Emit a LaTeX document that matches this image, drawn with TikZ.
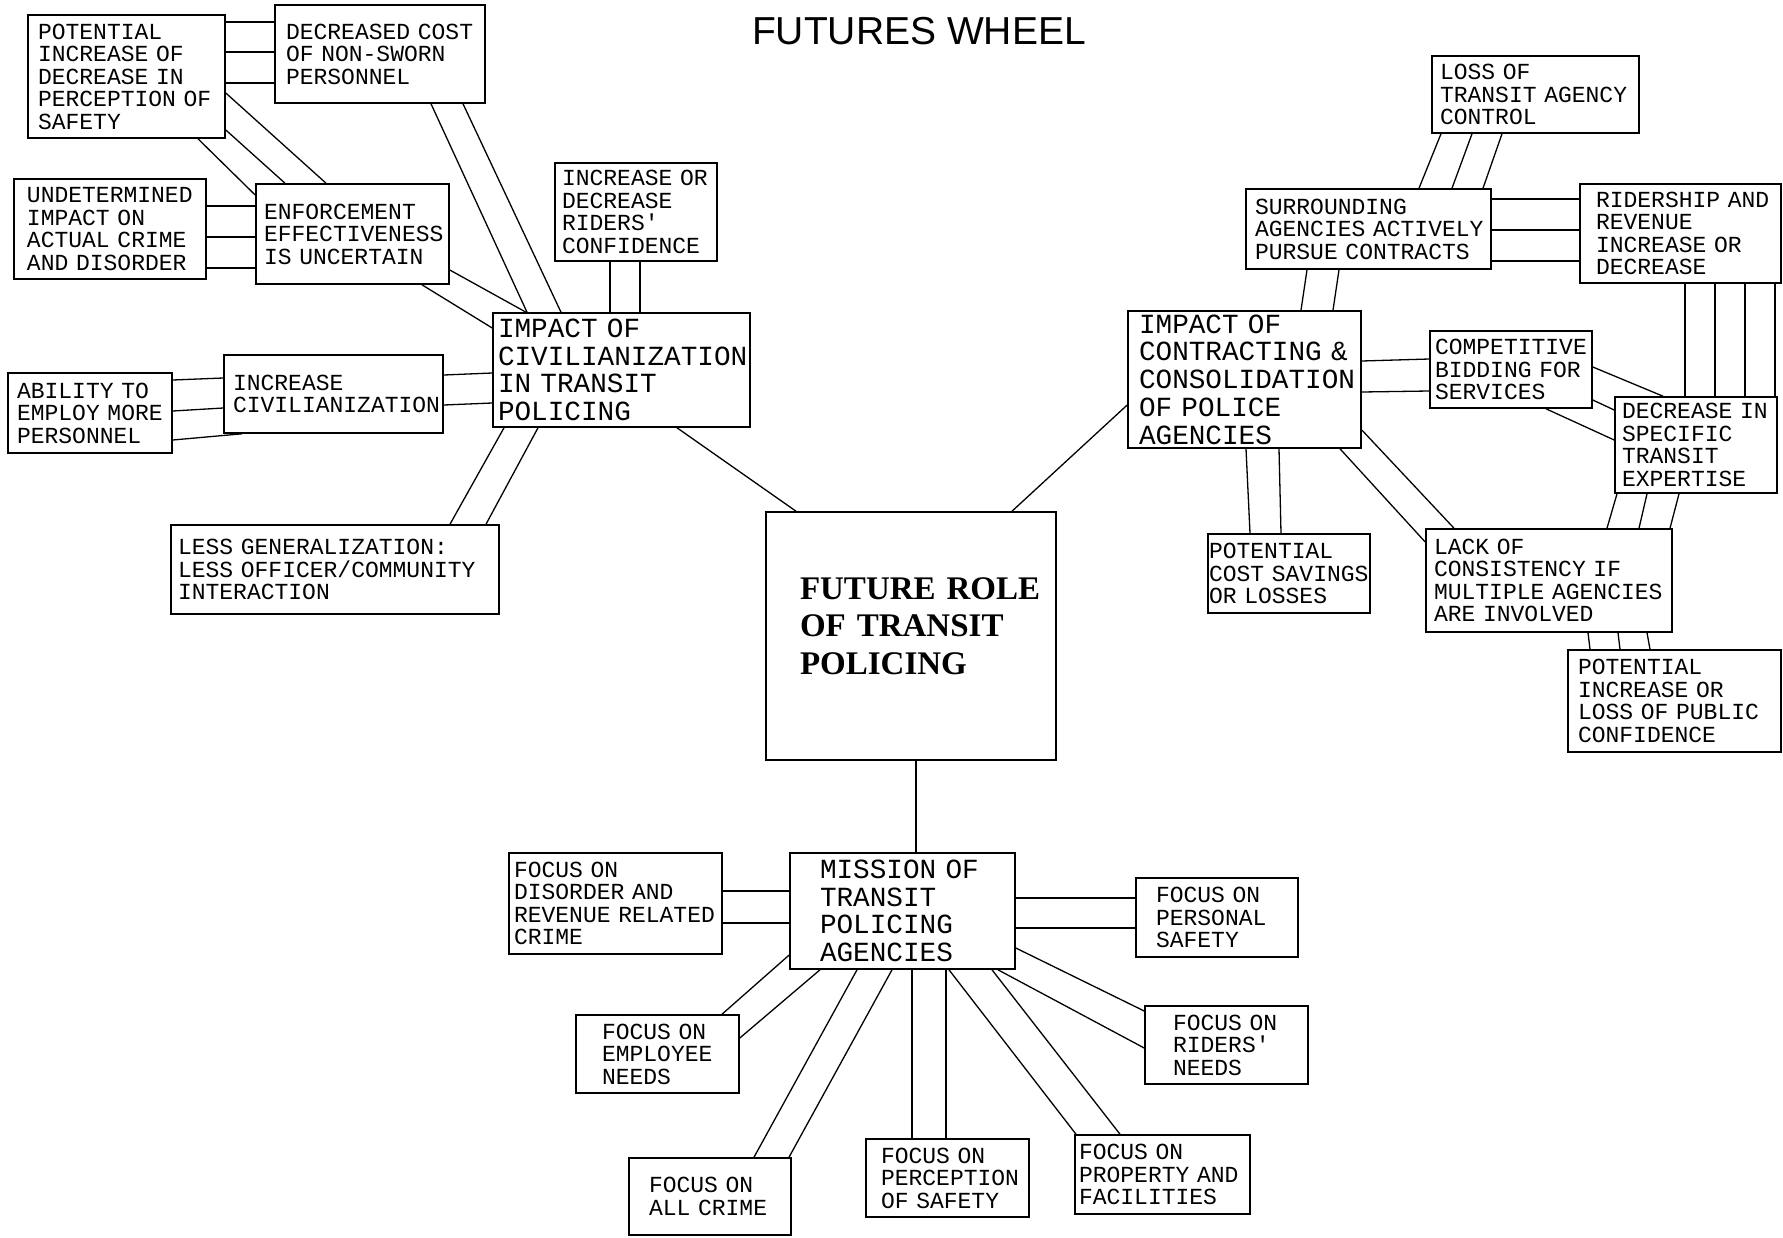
\documentclass[tikz,border=0pt]{standalone}
\usepackage{fontspec}
\setmainfont{Liberation Serif}
\setsansfont{Liberation Sans}
\setmonofont{Liberation Mono}
\newcommand\mkbox[8]{%
 \pgfmathsetmacro\mbW{#5-#3}\pgfmathsetmacro\mbH{#6-#4}\pgfmathsetmacro\mbT{#5-#3-2*#7}%
 \node[#2, minimum width=\mbW pt, minimum height=\mbH pt, text width=\mbT pt, inner xsep=#7 pt] (#1) at ({(#3+#5)/2},{(#4+#6)/2}) {#8};}
\tikzset{
 boxbase/.style={draw, line width=1.6pt, rectangle, inner ysep=0pt, align=left, anchor=center},
 sbox/.style={boxbase, font=\ttfamily\fontsize{23}{22.5}\selectfont},
 bbox/.style={boxbase, font=\ttfamily\fontsize{27.7}{27.7}\selectfont},
 cbox/.style={boxbase, font=\rmfamily\bfseries\fontsize{33}{37.5}\selectfont},
 conn/.style={line width=1.3pt}
}
\begin{document}
\begin{tikzpicture}[x=1pt,y=-1pt]
\fill[white] (0,0) rectangle (1783,1237);
\useasboundingbox (0,0) rectangle (1783,1237);
\node[font=\sffamily\fontsize{39}{39}\selectfont] (title) at (919,31) {FUTURES WHEEL};
% left cluster
\mkbox{b1}{sbox}{28}{15}{225}{138}{10}{POTENTIAL\\INCREASE~OF\\DECREASE~IN\\PERCEPTION~OF\\SAFETY}
\mkbox{b2}{sbox}{275}{5}{485}{103}{11}{DECREASED~COST\\OF~NON-SWORN\\PERSONNEL}
\mkbox{b3}{sbox}{14}{179}{206}{279}{13}{UNDETERMINED\\IMPACT~ON\\ACTUAL~CRIME\\AND~DISORDER}
\mkbox{b4}{sbox}{256}{184}{449}{284}{8}{ENFORCEMENT\\EFFECTIVENESS\\IS~UNCERTAIN}
\mkbox{b5}{sbox}{555}{163}{717}{261}{7}{INCREASE~OR\\DECREASE\\RIDERS'\\CONFIDENCE}
\mkbox{b6}{bbox}{493}{313}{750}{427}{5}{IMPACT~OF\\CIVILIANIZATION\\IN~TRANSIT\\POLICING}
\mkbox{b7}{sbox}{224}{355}{443}{433}{9}{INCREASE\\CIVILIANIZATION}
\mkbox{b8}{sbox}{8}{373}{172}{453}{9}{ABILITY~TO\\EMPLOY~MORE\\PERSONNEL}
\mkbox{b9}{sbox}{171}{525}{499}{614}{7}{LESS~GENERALIZATION:\\LESS~OFFICER/COMMUNITY\\INTERACTION}
% center
\mkbox{c}{cbox}{766}{512}{1056}{760}{34}{FUTURE~ROLE\\OF~TRANSIT\\POLICING\rule[-20pt]{0pt}{0pt}}
% right cluster
\mkbox{r1}{sbox}{1432}{56}{1639}{133}{8}{LOSS~OF\\TRANSIT~AGENCY\\CONTROL}
\mkbox{r2}{sbox}{1246}{189}{1491}{269}{9}{SURROUNDING\\AGENCIES~ACTIVELY\\PURSUE~CONTRACTS}
\mkbox{r3}{sbox}{1580}{184}{1781}{283}{16}{RIDERSHIP~AND\\REVENUE\\INCREASE~OR\\DECREASE}
\mkbox{r4}{bbox}{1128}{311}{1361}{448}{11}{IMPACT~OF\\CONTRACTING~\&\\CONSOLIDATION\\OF~POLICE\\AGENCIES}
\mkbox{r5}{sbox}{1430}{331}{1592}{408}{5}{COMPETITIVE\\BIDDING~FOR\\SERVICES}
\mkbox{r6}{sbox}{1615}{397}{1777}{493}{7}{DECREASE~IN\\SPECIFIC\\TRANSIT\\EXPERTISE}
\mkbox{r7}{sbox}{1208}{534}{1370}{613}{1}{POTENTIAL\\COST~SAVINGS\\OR~LOSSES}
\mkbox{r8}{sbox}{1426}{529}{1672}{632}{8}{LACK~OF\\CONSISTENCY~IF\\MULTIPLE~AGENCIES\\ARE~INVOLVED}
\mkbox{r9}{sbox}{1568}{650}{1781}{752}{10}{POTENTIAL\\INCREASE~OR\\LOSS~OF~PUBLIC\\CONFIDENCE}
% bottom cluster
\mkbox{m}{bbox}{790}{853}{1015}{969}{30}{MISSION~OF\\TRANSIT\\POLICING\\AGENCIES}
\mkbox{f1}{sbox}{509}{853}{722}{954}{5}{FOCUS~ON\\DISORDER~AND\\REVENUE~RELATED\\CRIME}
\mkbox{f2}{sbox}{1136}{878}{1298}{957}{20}{FOCUS~ON\\PERSONAL\\SAFETY}
\mkbox{f3}{sbox}{576}{1015}{739}{1093}{26}{FOCUS~ON\\EMPLOYEE\\NEEDS}
\mkbox{f4}{sbox}{1145}{1006}{1308}{1084}{28}{FOCUS~ON\\RIDERS'\\NEEDS}
\mkbox{f5}{sbox}{629}{1158}{791}{1235}{20}{FOCUS~ON\\ALL~CRIME}
\mkbox{f6}{sbox}{866}{1139}{1029}{1217}{15}{FOCUS~ON\\PERCEPTION\\OF~SAFETY}
\mkbox{f7}{sbox}{1075}{1135}{1250}{1214}{4}{FOCUS~ON\\PROPERTY~AND\\FACILITIES}
% connectors: left cluster
\foreach \yy in {22,52,83} {\draw[conn] (b1.east |- 0,\yy) -- (b2.west |- 0,\yy);}
\draw[conn] (b1.east |- 0,93) -- (b4.north -| 326,0);
\draw[conn] (b1.east |- 0,130) -- (b4.north -| 285,0);
\draw[conn] (b1.south -| 198,0) -- (b4.west |- 0,195);
\foreach \yy in {206,237,268} {\draw[conn] (b3.east |- 0,\yy) -- (b4.west |- 0,\yy);}
\draw[conn] (b2.south -| 431,0) -- (b6.north -| 527,0);
\draw[conn] (b2.south -| 463,0) -- (b6.north -| 561,0);
\draw[conn] (b4.east |- 0,270) -- (b6.north -| 526,0);
\draw[conn] (b4.south -| 422,0) -- (b6.west |- 0,328);
\foreach \xx in {610,640} {\draw[conn] (b5.south -| \xx,0) -- (b6.north -| \xx,0);}
\draw[conn] (b7.east |- 0,375) -- (b6.west |- 0,373);
\draw[conn] (b7.east |- 0,405) -- (b6.west |- 0,403);
\draw[conn] (b8.east |- 0,380) -- (b7.west |- 0,378);
\draw[conn] (b8.east |- 0,411) -- (b7.west |- 0,408);
\draw[conn] (b8.east |- 0,440) -- (b7.south -| 242,0);
\draw[conn] (b6.south -| 504,0) -- (b9.north -| 450,0);
\draw[conn] (b6.south -| 538,0) -- (b9.north -| 486,0);
\draw[conn] (b6.south -| 677,0) -- (c.north -| 796,0);
% center links
\draw[conn] (c.north -| 1012,0) -- (r4.west |- 0,405);
\draw[conn] (c.south -| 916,0) -- (m.north -| 916,0);
% right cluster
\draw[conn] (r1.south -| 1441,0) -- (r2.north -| 1419,0);
\draw[conn] (r1.south -| 1472,0) -- (r2.north -| 1452,0);
\draw[conn] (r1.south -| 1502,0) -- (r2.north -| 1483,0);
\foreach \yy in {199,230,261} {\draw[conn] (r2.east |- 0,\yy) -- (r3.west |- 0,\yy);}
\draw[conn] (r2.south -| 1307,0) -- (r4.north -| 1301,0);
\draw[conn] (r2.south -| 1339,0) -- (r4.north -| 1333,0);
\draw[conn] (r4.east |- 0,361) -- (r5.west |- 0,359);
\draw[conn] (r4.east |- 0,392) -- (r5.west |- 0,391);
\draw[conn] (r5.east |- 0,367) -- (r6.north -| 1663,0);
\draw[conn] (r5.east |- 0,400) -- (r6.west |- 0,410);
\draw[conn] (r5.south -| 1546,0) -- (r6.west |- 0,440);
\foreach \xx in {1685,1715,1745,1775} {\draw[conn] (r3.south -| \xx,0) -- (r6.north -| \xx,0);}
\draw[conn] (r6.south -| 1617,0) -- (r8.north -| 1607,0);
\draw[conn] (r6.south -| 1647,0) -- (r8.north -| 1639,0);
\draw[conn] (r6.south -| 1679,0) -- (r8.north -| 1670,0);
\draw[conn] (r4.south -| 1246,0) -- (r7.north -| 1250,0);
\draw[conn] (r4.south -| 1279,0) -- (r7.north -| 1281,0);
\draw[conn] (r4.south -| 1340,0) -- (r8.west |- 0,542);
\draw[conn] (r4.east |- 0,430) -- (r8.north -| 1454,0);
\draw[conn] (r8.south -| 1588,0) -- (r9.north -| 1590,0);
\draw[conn] (r8.south -| 1618,0) -- (r9.north -| 1620,0);
\draw[conn] (r8.south -| 1647,0) -- (r9.north -| 1650,0);
% bottom cluster
\foreach \yy in {891,923} {\draw[conn] (f1.east |- 0,\yy) -- (m.west |- 0,\yy);}
\foreach \yy in {898,928} {\draw[conn] (m.east |- 0,\yy) -- (f2.west |- 0,\yy);}
\draw[conn] (m.west |- 0,955) -- (f3.north -| 722,0);
\draw[conn] (m.south -| 820,0) -- (f3.east |- 0,1038);
\draw[conn] (m.south -| 857,0) -- (f5.north -| 754,0);
\draw[conn] (m.south -| 892,0) -- (f5.north -| 789,0);
\foreach \xx in {912,946} {\draw[conn] (m.south -| \xx,0) -- (f6.north -| \xx,0);}
\draw[conn] (m.south -| 949,0) -- (f7.north -| 1076,0);
\draw[conn] (m.south -| 992,0) -- (f7.north -| 1120,0);
\draw[conn] (m.east |- 0,948) -- (f4.west |- 0,1011);
\draw[conn] (m.south -| 998,0) -- (f4.west |- 0,1048);
\end{tikzpicture}
\end{document}
